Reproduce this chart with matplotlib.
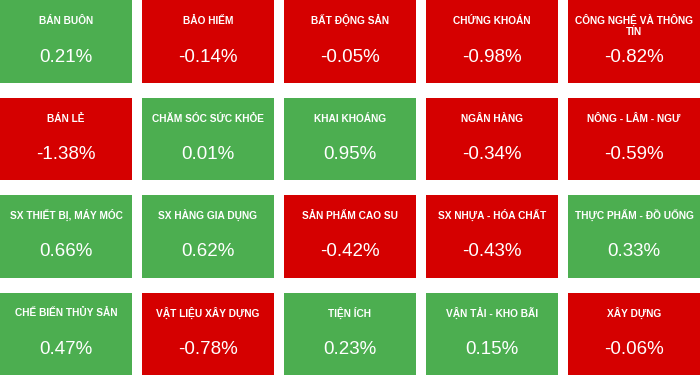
import matplotlib.pyplot as plt
from matplotlib.patches import Rectangle

# sector names and their % change, row by row (5 per row)
sectors = [
    'BÁN BUÔN', 'BẢO HIỂM', 'BẤT ĐỘNG SẢN', 'CHỨNG KHOÁN', 'CÔNG NGHỆ VÀ THÔNG\nTIN',
    'BÁN LẺ', 'CHĂM SÓC SỨC KHỎE', 'KHAI KHOÁNG', 'NGÂN HÀNG', 'NÔNG - LÂM - NGƯ',
    'SX THIẾT BỊ, MÁY MÓC', 'SX HÀNG GIA DỤNG', 'SẢN PHẨM CAO SU', 'SX NHỰA - HÓA CHẤT', 'THỰC PHẨM - ĐỒ UỐNG',
    'CHẾ BIẾN THỦY SẢN', 'VẬT LIỆU XÂY DỰNG', 'TIỆN ÍCH', 'VẬN TẢI - KHO BÃI', 'XÂY DỰNG',
]
changes = [
    0.21, -0.14, -0.05, -0.98, -0.82,
    -1.38, 0.01, 0.95, -0.34, -0.59,
    0.66, 0.62, -0.42, -0.43, 0.33,
    0.47, -0.78, 0.23, 0.15, -0.06,
]

ncols = 5
green = '#4cae50'
red = '#d50000'

plt.rcParams['font.family'] = ['Liberation Sans', 'DejaVu Sans']

fig = plt.figure(figsize=(7, 3.75), dpi=100)
ax = fig.add_axes([0, 0, 1, 1])
ax.set_xlim(0, 700)
ax.set_ylim(375, 0)
ax.axis('off')

# tile geometry in pixels
w, h = 132, 82.5
gx, gy = 10, 15

for i, (name, val) in enumerate(zip(sectors, changes)):
    r, c = divmod(i, ncols)
    x0 = c * (w + gx)
    y0 = r * (h + gy)
    color = green if val >= 0 else red
    ax.add_patch(Rectangle((x0, y0), w, h, facecolor=color, edgecolor='none'))
    # first line baseline fixed so accents don't shift the label
    lines = name.split('\n')
    for k, line in enumerate(lines):
        ax.text(x0 + w / 2, y0 + 24 + k * 11, line, ha='center', va='baseline',
                color='white', fontsize=7.3, fontweight='bold')
    ax.text(x0 + w / 2, y0 + 57, f'{val:.2f}%', ha='center', va='center',
            color='white', fontsize=13.5)

fig.savefig('out.png', dpi=100)
